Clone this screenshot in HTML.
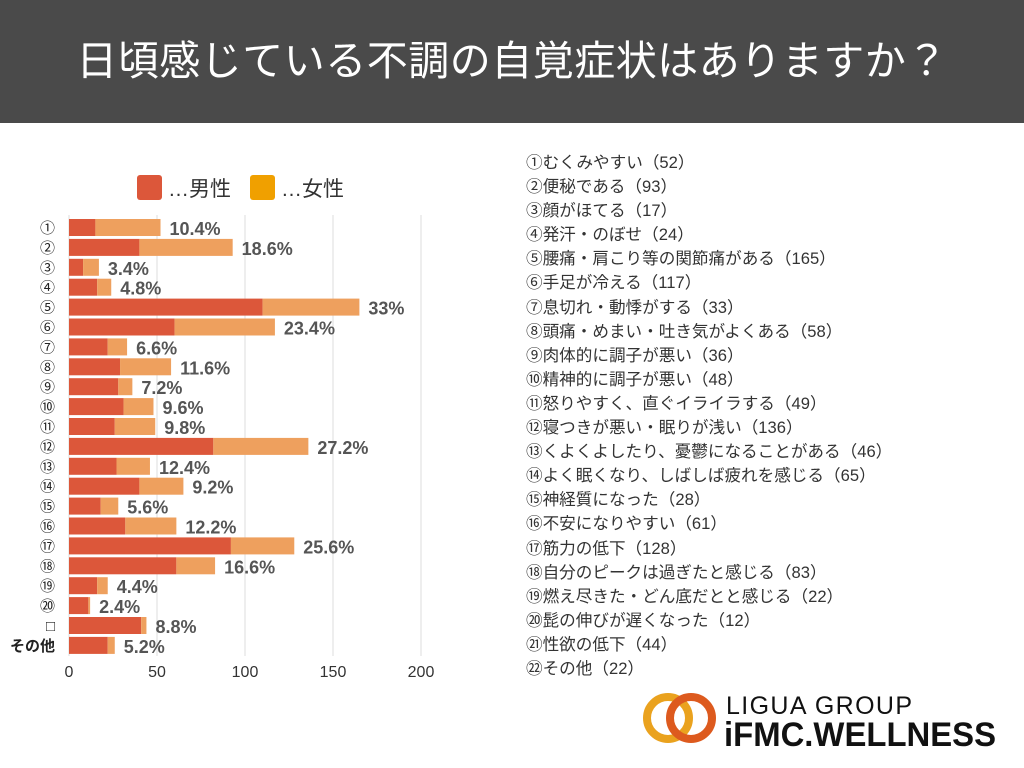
<!DOCTYPE html>
<html><head><meta charset="utf-8"><style>
body{margin:0;width:1024px;height:768px;background:#fff;overflow:hidden;font-family:"Liberation Sans","Noto Sans CJK JP",sans-serif;position:relative}
#hdr{position:absolute;left:0;top:0;width:1024px;height:123px;background:#4a4a4a;color:#fff;font-size:41px;text-align:center;line-height:123px;letter-spacing:0.5px}
#list{position:absolute;left:526px;top:151px;font-size:16.6px;color:#333;line-height:24.1px;margin:0;padding:0;list-style:none}
</style></head><body>
<div id="hdr">日頃感じている不調の自覚症状はありますか？</div>
<svg id="chart" width="1024" height="768" style="position:absolute;left:0;top:0"></svg>
<ul id="list"></ul>
<svg width="380" height="70" style="position:absolute;left:636px;top:684px">
<circle cx="32" cy="34" r="21" fill="none" stroke="#eaa21e" stroke-width="8"/>
<circle cx="55" cy="34" r="21" fill="none" stroke="#dd5a1e" stroke-width="8"/>
<text x="90" y="30" font-family="Liberation Sans" font-size="25" fill="#111" textLength="186">LIGUA GROUP</text>
<text x="88" y="62" font-family="Liberation Sans" font-size="34" font-weight="bold" fill="#111" textLength="272" lengthAdjust="spacingAndGlyphs">iFMC.WELLNESS</text>
</svg>
<script>
const categories=["①","②","③","④","⑤","⑥","⑦","⑧","⑨","⑩","⑪","⑫","⑬","⑭","⑮","⑯","⑰","⑱","⑲","⑳","□","その他"];
const maleValues=[15,40,8,16,110,60,22,29,28,31,26,82,27,40,18,32,92,61,16,11,41,22];
const femaleValues=[37,53,9,8,55,57,11,29,8,17,23,54,19,25,10,29,36,22,6,1,3,4];
const pctLabels=["10.4%","18.6%","3.4%","4.8%","33%","23.4%","6.6%","11.6%","7.2%","9.6%","9.8%","27.2%","12.4%","9.2%","5.6%","12.2%","25.6%","16.6%","4.4%","2.4%","8.8%","5.2%"];
const xTicks=[0,50,100,150,200];
const listItems=["①むくみやすい（52）","②便秘である（93）","③顔がほてる（17）","④発汗・のぼせ（24）","⑤腰痛・肩こり等の関節痛がある（165）","⑥手足が冷える（117）","⑦息切れ・動悸がする（33）","⑧頭痛・めまい・吐き気がよくある（58）","⑨肉体的に調子が悪い（36）","⑩精神的に調子が悪い（48）","⑪怒りやすく、直ぐイライラする（49）","⑫寝つきが悪い・眠りが浅い（136）","⑬くよくよしたり、憂鬱になることがある（46）","⑭よく眠くなり、しばしば疲れを感じる（65）","⑮神経質になった（28）","⑯不安になりやすい（61）","⑰筋力の低下（128）","⑱自分のピークは過ぎたと感じる（83）","⑲燃え尽きた・どん底だとと感じる（22）","⑳髭の伸びが遅くなった（12）","㉑性欲の低下（44）","㉒その他（22）"];
const NS="http://www.w3.org/2000/svg";
const svg=document.getElementById('chart');
const x=v=>69+v*1.76;
const y=i=>219+i*19.9;
function mk(t,a){const e=document.createElementNS(NS,t);for(const k in a)e.setAttribute(k,a[k]);svg.appendChild(e);return e;}
xTicks.forEach(t=>{
 const l=mk('line',{x1:x(t),x2:x(t),y1:215,y2:656,stroke:'#ddd','stroke-width':1});
 
 
 const tx=mk('text',{x:x(t),y:677,'text-anchor':'middle','font-size':16,fill:'#333'});
 tx.textContent=t;
 
 
});
categories.forEach((c,i)=>{
 const m=mk('rect',{x:x(0),y:y(i),width:x(maleValues[i])-x(0),height:17,fill:'#dc573a'});
 
 
 const f=mk('rect',{x:x(maleValues[i]),y:y(i),width:x(maleValues[i]+femaleValues[i])-x(maleValues[i]),height:17,fill:'#eea05e'});
 
 
 const lb=mk('text',{x:55,y:y(i)+14,'text-anchor':'end','font-size':c.length>1?15:15,fill:'#222','font-weight':c.length>1?'bold':'normal'});
 lb.textContent=c;
 
 
 const pv=mk('text',{x:x(maleValues[i]+femaleValues[i])+9,y:y(i)+16,'font-size':18,'font-weight':'bold',fill:'#555'});
 pv.textContent=pctLabels[i];
 
 
});
[[137,'#dc573a','…男性'],[250,'#f0a000','…女性']].forEach(([lx,col,t])=>{
 const r=mk('rect',{x:lx,y:175,width:25,height:25,rx:3,fill:col});
 
 
 const tx=mk('text',{x:lx+31,y:196,'font-size':21,fill:'#333'});
 tx.textContent=t;
 
 
});
const ul=document.getElementById('list');
listItems.forEach(s=>{const li=document.createElement('li');li.textContent=s;
 
 
 ul.appendChild(li);});
</script>
</body></html>
